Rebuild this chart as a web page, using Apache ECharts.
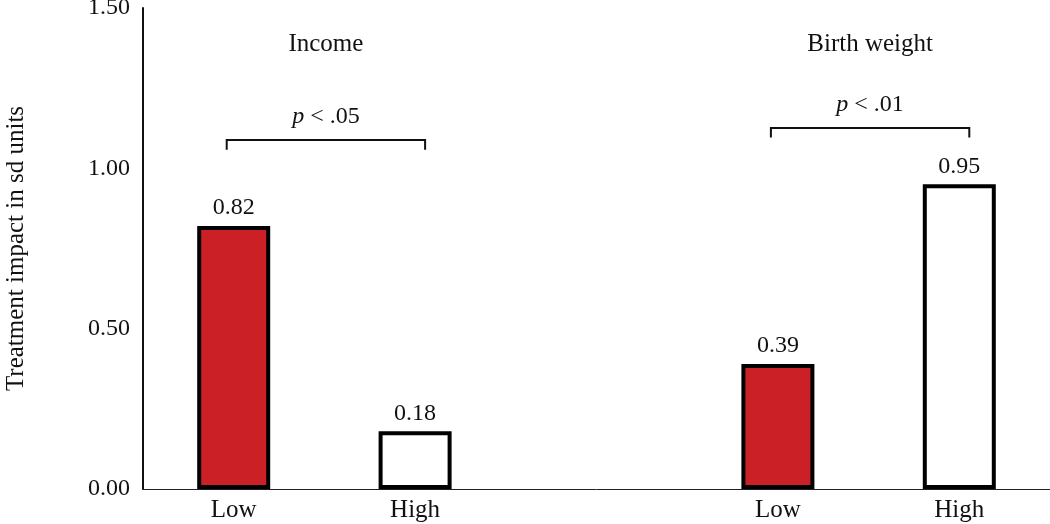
<!DOCTYPE html>
<html>
<head>
<meta charset="utf-8">
<script src="https://cdn.jsdelivr.net/npm/echarts@6/dist/echarts.min.js"></script>
<style>html,body{margin:0;padding:0;background:#fff}#c{width:1050px;height:524px}</style>
</head>
<body>
<div id="c"></div>
<script>
// ---- data ----
var categories = ['Low', 'High', '', 'Low', 'High'];
var values = [0.82, 0.18, null, 0.39, 0.95];
var yTicks = [0, 0.5, 1.0, 1.5];
var groupTitles = ['Income', 'Birth weight'];
var groupSpans = [[0, 1], [3, 4]];
var groupTitleLevel = 1.385;
var pLabels = ['.05', '.01'];
var bracketLevels = [1.088, 1.126];
var bracketDrop = [0.03, 0.03];
var yName = 'Treatment impact in sd units';

var FONT = 'Liberation Serif';
var WORD = 25, NUM = 24;
var RED = '#cc2027';

var barData = values.map(function (v, i) {
  if (v === null) return '-';
  return {
    value: v,
    itemStyle: { color: categories[i] === 'Low' ? RED : '#ffffff' }
  };
});

var annData = groupTitles.map(function (t, i) {
  return [groupSpans[i][0], groupSpans[i][1], bracketLevels[i], bracketDrop[i], groupTitleLevel];
});

var chart = echarts.init(document.getElementById('c'), null, { renderer: 'canvas' });
chart.setOption({
  animation: false,
  backgroundColor: '#fff',
  grid: { left: 143, right: 0, top: 8, bottom: 35, containLabel: false, outerBoundsMode: 'none' },
  xAxis: {
    type: 'category',
    data: categories,
    boundaryGap: true,
    axisLine: { show: true, lineStyle: { color: '#222', width: 1 } },
    axisTick: { show: false },
    axisLabel: { color: '#111', fontFamily: FONT, fontSize: WORD, margin: 9 }
  },
  yAxis: {
    type: 'value',
    min: yTicks[0],
    max: yTicks[yTicks.length - 1],
    interval: yTicks[1] - yTicks[0],
    name: yName,
    nameLocation: 'middle',
    nameRotate: 90,
    nameGap: 114,
    nameTextStyle: { color: '#111', fontFamily: FONT, fontSize: WORD },
    axisLine: { show: true, lineStyle: { color: '#111', width: 2 } },
    axisTick: { show: false },
    splitLine: { show: false },
    axisLabel: {
      color: '#111', fontFamily: FONT, fontSize: NUM, margin: 13,
      formatter: function (v) { return v.toFixed(2); }
    }
  },
  series: [
    {
      type: 'bar',
      data: barData,
      barWidth: 73,
      itemStyle: { borderColor: '#000', borderWidth: 4 },
      label: {
        show: true, position: 'top', distance: 6,
        color: '#111', fontFamily: FONT, fontSize: NUM,
        formatter: function (p) { return p.value.toFixed(2); }
      }
    },
    {
      type: 'custom',
      data: annData,
      silent: true,
      z: 5,
      renderItem: function (params, api) {
        var i = params.dataIndex;
        var x0 = api.value(0), x1 = api.value(1), y = api.value(2), d = api.value(3), ty = api.value(4);
        var pL = api.coord([x0, y]);
        var pR = api.coord([x1, y]);
        var pB = api.coord([x0, y - d]);
        var left = pL[0] - 7, right = pR[0] + 10, top = pL[1], bot = pB[1];
        var mid = (left + right) / 2;
        var title = api.coord([x0, ty]);
        return {
          type: 'group',
          children: [
            {
              type: 'polyline',
              shape: { points: [[left, bot], [left, top], [right, top], [right, bot]] },
              style: { stroke: '#111', lineWidth: 2, fill: null }
            },
            {
              type: 'text',
              style: {
                x: mid, y: top - 23, align: 'center', verticalAlign: 'middle',
                text: '{i|p} < ' + pLabels[i],
                font: NUM + 'px "' + FONT + '"', fill: '#111',
                rich: { i: { fontStyle: 'italic', fontFamily: FONT, fontSize: NUM, fill: '#111' } }
              }
            },
            {
              type: 'text',
              style: {
                x: mid, y: title[1], align: 'center', verticalAlign: 'middle',
                text: groupTitles[i], font: WORD + 'px "' + FONT + '"', fill: '#111'
              }
            }
          ]
        };
      }
    }
  ]
});
</script>
</body>
</html>
